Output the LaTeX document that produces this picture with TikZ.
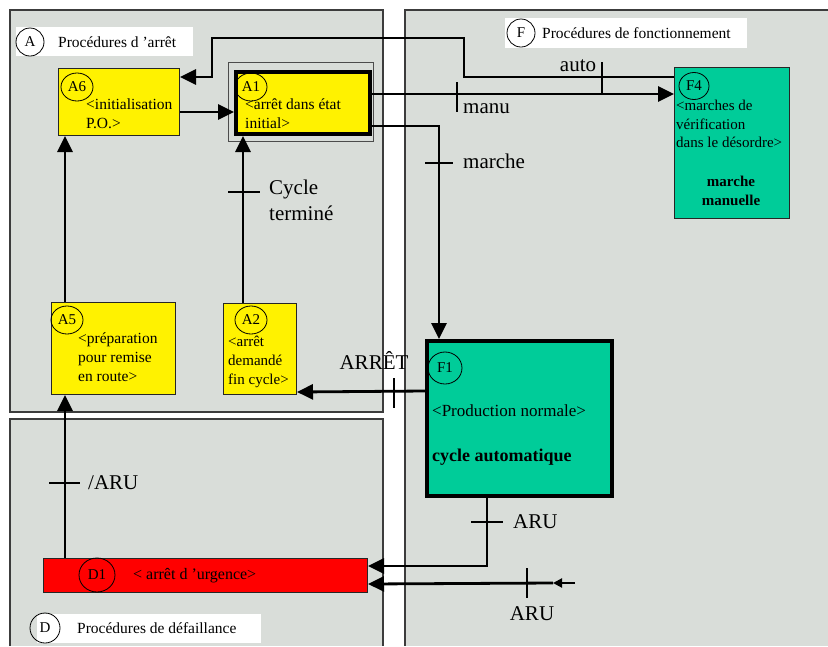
\documentclass[tikz,border=0pt]{standalone}
\usepackage{fontspec}
\setmainfont{Liberation Serif}
\usetikzlibrary{arrows.meta,shapes.geometric}
\definecolor{bggrey}{RGB}{217,221,217}
\definecolor{tealbox}{RGB}{0,204,153}
\definecolor{panelline}{RGB}{60,60,60}
\begin{document}
\begin{tikzpicture}[x=1pt,y=-1pt,
  panelfill/.style={fill=bggrey},
  panelborder/.style={draw=panelline,line width=1.3pt},
  titlebox/.style={fill=white,inner sep=0,anchor=north west},
  box/.style={draw=black!85,line width=1pt,inner sep=0,anchor=north west},
  ybox/.style={box,fill=yellow},
  conn/.style={line width=2.8pt,-{Triangle[length=16pt,width=15pt]}},
  tick/.style={line width=2.4pt},
  lbl/.style={font=\fontsize{21}{26}\selectfont,inner sep=0},
  btxt/.style={font=\fontsize{15.5}{18.5}\selectfont,align=left,inner sep=0,anchor=north west},
  ttxt/.style={font=\fontsize{15.5}{18}\selectfont,inner sep=0,anchor=west},
  cir/.style={ellipse,draw,line width=0.8pt,inner sep=0,minimum width=32,minimum height=28,font=\fontsize{15}{18}\selectfont}
]
\useasboundingbox (0,0) rectangle (828,646);
\fill[white] (0,0) rectangle (828,646);
% panels
\path[panelfill,panelborder] (10,10) rectangle (383,412);
\fill[bggrey] (405,10) rectangle (828,646);
\draw[panelborder] (828,10) -- (405,10) -- (405,646);
\fill[bggrey] (10,419) rectangle (383,646);
\draw[panelborder] (10,646) -- (10,419) -- (383,419) -- (383,646);
% titles
\node[titlebox,minimum width=177,minimum height=29] (Atb) at (16,27) {};
\node[cir,minimum width=28,minimum height=28] (Ac) at (30,42) {A};
\node[ttxt] (At) at (58,42) {Procédures d 'arrêt};
\node[titlebox,minimum width=242,minimum height=30] (Ftb) at (505,18) {};
\node[cir,minimum width=28,minimum height=28] (Fc) at (521,33) {F};
\node[ttxt] (Ft) at (542,33) {Procédures de fonctionnement};
\node[titlebox,minimum width=224,minimum height=29] (Dtb) at (37,614) {};
\node[cir,minimum width=30,minimum height=30] (Dc) at (45,628) {D};
\node[ttxt] (Dt) at (77,628) {Procédures de défaillance};
% boxes
\node[ybox,minimum width=121,minimum height=67] (A6) at (58,68) {};
\node[box,draw=black!70,minimum width=145,minimum height=79] (A1o) at (228,62) {};
\node[ybox,draw=black,line width=4pt,minimum width=134,minimum height=62] (A1) at (234,70) {};
\node[ybox,minimum width=124,minimum height=92] (A5) at (51,302) {};
\node[ybox,minimum width=73,minimum height=91] (A2) at (223,303) {};
\node[box,fill=tealbox,minimum width=115,minimum height=151] (F4) at (674,67) {};
\node[box,fill=tealbox,draw=black,line width=4pt,minimum width=185,minimum height=155] (F1) at (425,339) {};
\node[box,fill=red,minimum width=324,minimum height=34] (D1) at (43,558) {};
% box texts
\node[cir] (A6c) at (77,87) {A6};
\node[btxt] (A6t) at (86,99) {<initialisation\\P.O.>};
\node[cir] (A1c) at (251,87) {A1};
\node[btxt] (A1t) at (245,99) {<arrêt dans état\\initial>};
\node[cir] (A5c) at (67,320) {A5};
\node[btxt,font=\fontsize{15.5}{19}\selectfont] (A5t) at (78,333) {<préparation\\pour remise\\en route>};
\node[cir] (A2c) at (251,320) {A2};
\node[btxt,font=\fontsize{15}{19}\selectfont] (A2t) at (228,336) {<arrêt\\demandé\\fin cycle>};
\node[cir,minimum width=30,minimum height=27] (F4c) at (694,86) {F4};
\node[btxt,font=\fontsize{15}{18.5}\selectfont] (F4t) at (676,100) {<marches de\\vérification\\dans le désordre>};
\node[font=\bfseries\fontsize{15}{18.5}\selectfont,align=center,inner sep=0] (F4b) at (731,191) {marche\\manuelle};
\node[cir,minimum width=34,minimum height=32] (F1c) at (445,368) {F1};
\node[font=\fontsize{17}{20}\selectfont,inner sep=0,anchor=west] (F1t) at (432,411) {<Production normale>};
\node[font=\bfseries\fontsize{18}{20}\selectfont,inner sep=0,anchor=west] (F1b) at (432,457) {cycle automatique};
\node[cir,minimum width=36,minimum height=34] (D1c) at (97,575) {D1};
\node[font=\fontsize{16}{19}\selectfont,inner sep=0,anchor=west] (D1t) at (133,576) {< arrêt d 'urgence>};
% connectors
\draw[conn] ([yshift=-10pt]F4.north west) -- (464,77) -- (464,38) -- (212,38) -- (212,77) -- ([yshift=-9pt]A6.north east);
\draw[conn] ([yshift=-24pt]A1.north east) -- ([yshift=-27pt]F4.north west);
\draw[conn] ([yshift=-56pt]A1.north east) -- (439,126) -- ([xshift=14pt]F1.north west);
\draw[conn] ([yshift=-44pt]A6.north east) -- ([yshift=-42pt]A1.north west);
\draw[conn] ([xshift=20pt]A2.north west) -- ([xshift=9pt]A1.south west);
\draw[conn] ([xshift=14pt]A5.north west) -- ([xshift=7pt]A6.south west);
\draw[conn] ([xshift=22pt]D1.north west) -- ([xshift=14pt]A5.south west);
\draw[conn] ([yshift=-52pt]F1.north west) -- ([yshift=3pt]A2.south east);
\draw[conn] ([xshift=62pt]F1.south west) -- (487,566) -- ([yshift=-8pt]D1.north east);
\coordinate (arusrc) at (575,583);
\coordinate (arumid) at (553,583);
\draw[line width=2pt,-{Triangle[length=9pt,width=9pt]}] (arusrc) -- (arumid);
\draw[conn] (arumid) -- ([yshift=9pt]D1.south east);
% ticks
\draw[tick] (602,62) -- (602,93);
\draw[tick] (457,82) -- (457,112);
\draw[tick] (425,163) -- (453,163);
\draw[tick] (228,192) -- (260,192);
\draw[tick] (394,378) -- (394,408);
\draw[tick] (49,483) -- (80,483);
\draw[tick] (471,522) -- (503,522);
\draw[tick] (527,568) -- (527,598);
% labels
\node[lbl] (Lauto) at (578,66) {auto};
\node[lbl,anchor=west] (Lmanu) at (463,109) {manu};
\node[lbl,anchor=west] (Lmarche) at (463,161) {marche};
\node[lbl,anchor=north west,align=left] (Lcycle) at (269,180) {Cycle\\terminé};
\node[lbl] (Larret) at (374,360) {ARRÊT};
\node[lbl,anchor=west] (Lnaru) at (88,483) {/ARU};
\node[lbl,anchor=west] (Laru1) at (513,522) {ARU};
\node[lbl] (Laru2) at (532,614) {ARU};
\end{tikzpicture}
\end{document}
